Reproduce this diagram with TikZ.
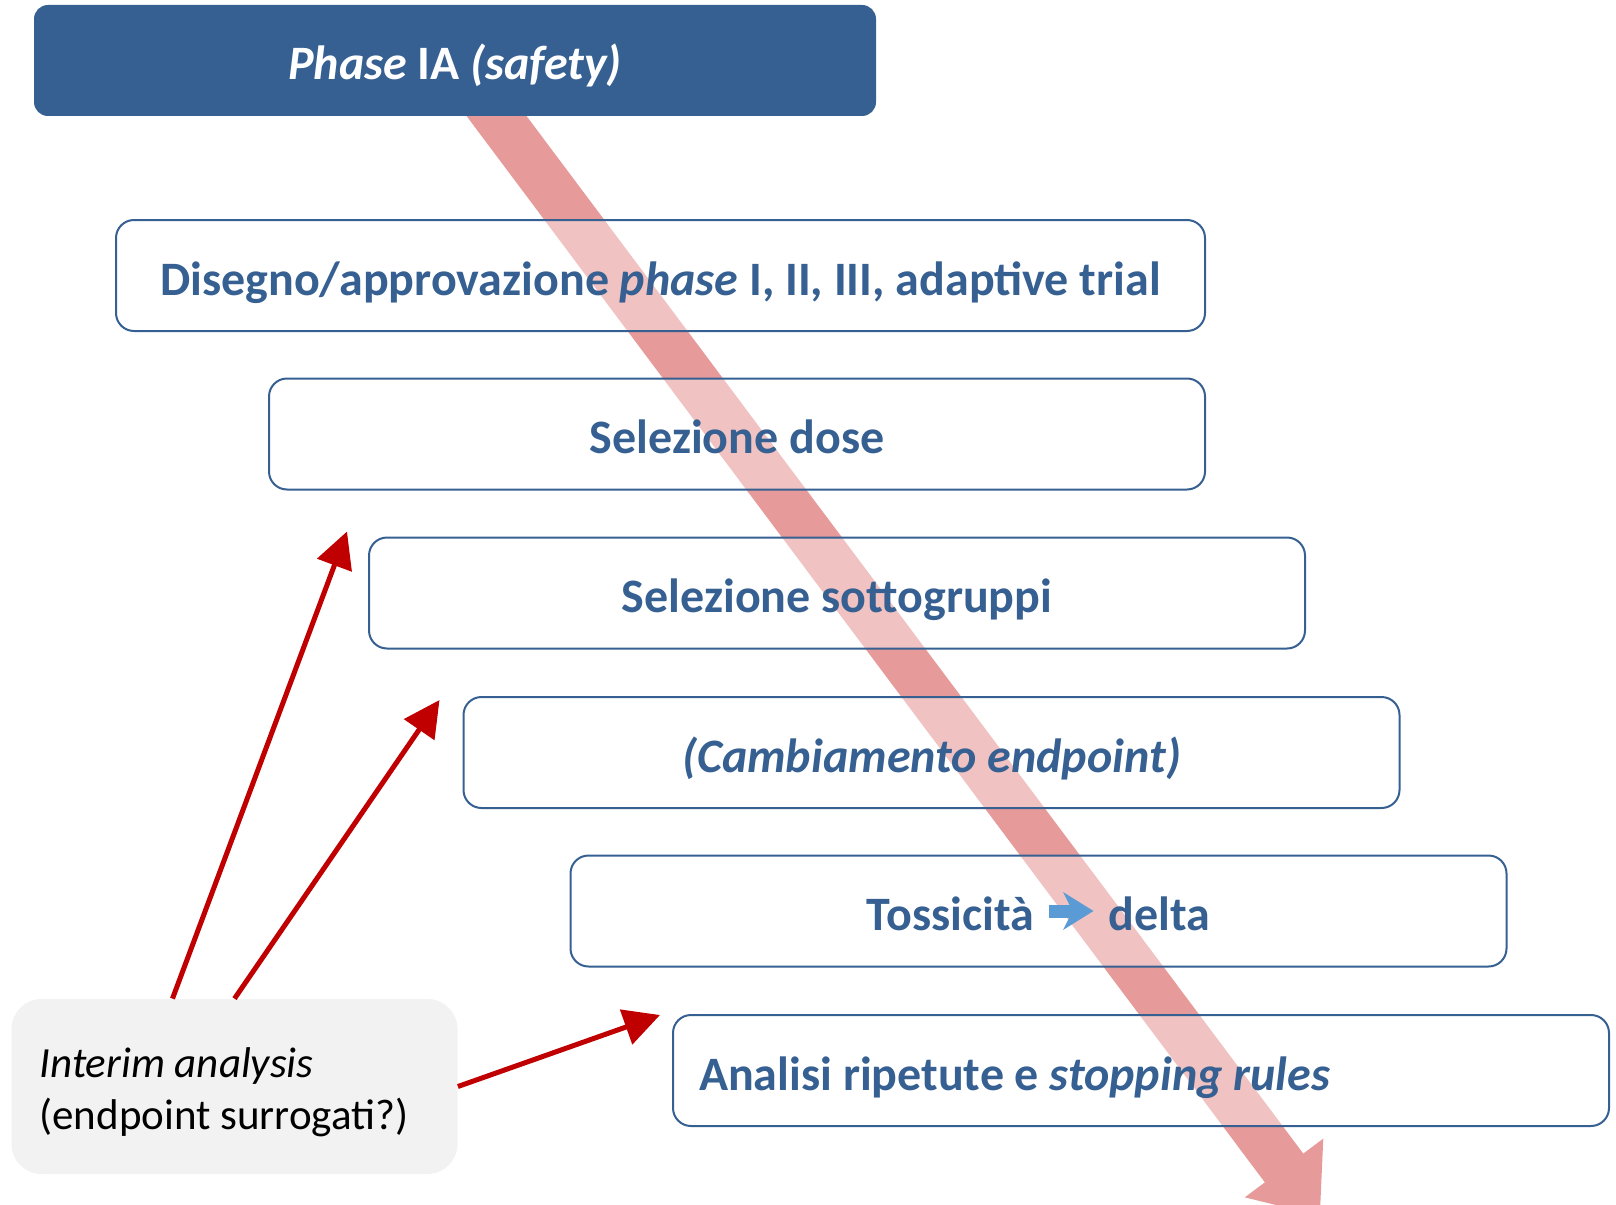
\documentclass[tikz,border=0pt]{standalone}
\usepackage{fontspec}
\setmainfont{Carlito}
\usetikzlibrary{arrows.meta,positioning,calc,backgrounds}
\definecolor{phaseblue}{RGB}{54,96,146}
\definecolor{flowpink}{RGB}{230,154,154}
\definecolor{alertred}{RGB}{192,0,0}
\definecolor{notegrey}{RGB}{242,242,242}
\definecolor{skyblue}{RGB}{91,155,213}

\tikzset{
  stepbox/.style={draw=phaseblue, line width=1pt, rounded corners=9pt,
                  fill=white, fill opacity=0.4, text opacity=1, text=phaseblue,
                  font=\fontsize{24}{29}\selectfont\bfseries,
                  text height=22pt, text depth=2.5pt,
                  minimum width=468pt, minimum height=55.5pt,
                  inner sep=0pt, outer sep=0pt},
  steptext/.style={text=phaseblue, font=\fontsize{24}{29}\selectfont\bfseries,
                   inner sep=0pt, text height=22pt, text depth=2.5pt},
  interim/.style={-{Triangle[length=18pt,width=18pt]}, alertred, line width=2.5pt}
}

\begin{document}
\begin{tikzpicture}[x=0.5pt, y=-0.5pt]

      \useasboundingbox (0,0) rectangle (1616,1204);

      % phase header
      \node (top) [fill=phaseblue, rounded corners=7pt, text=white,
                   minimum width=421pt, minimum height=55.5pt, inner sep=0pt,
                   text height=22pt, text depth=2.5pt,
                   font=\fontsize{24}{29}\selectfont\bfseries] at (455,60.5)
            {\textit{Phase} IA \textit{(safety)}};

      % steps
      \node (b1) [stepbox, minimum width=544.5pt] at (660.5,275.5)
            {Disegno/approvazione \textit{phase} I, II, III, adaptive trial};
      \node (b2) [stepbox] at (737,434)  {Selezione dose};
      \node (b3) [stepbox] at (837,593)  {Selezione sottogruppi};
      \node (b4) [stepbox] at (931.5,752.5) {\textit{(Cambiamento endpoint)}};
      \node (b5) [stepbox] at (1038.5,911) {};
      \node (b6) [stepbox, text width=442pt, inner xsep=13pt, align=flush left]
            at (1141,1070.5) {Analisi ripetute e \textit{stopping rules}};

      \node (tox) [steptext, anchor=east] at ($(b5.center)+(-4,0)$) {Tossicità};
      \node (delta) [steptext, right=37pt of tox] {delta};
      \draw [-{Stealth[length=15pt,width=18.5pt,inset=4.5pt]}, skyblue, line width=6.5pt,
             shorten <=7pt, shorten >=7.5pt] (tox.east) -- (delta.west);

      % interim analysis note
      \node (grey) [fill=notegrey, rounded corners=15pt, text width=195pt,
                    inner xsep=14pt, minimum height=87.5pt, align=flush left,
                    text depth=24pt,
                    font=\fontsize{21.5}{26}\selectfont] at (234.5,1086.5)
            {\textit{Interim analysis}\\(endpoint surrogati?)};

      \draw [interim] ($(grey.north)+(-62,0)$) -- ($(b3.north west)+(-22,-6)$);
      \draw [interim] (grey.north) -- ($(b4.north west)+(-24,3)$);
      \draw [interim] (grey.east) -- ($(b6.north west)+(-13,0)$);

      % flow arrow behind the steps
      \coordinate (fallend) at (1320,1216);
      \begin{scope}[on background layer]
        \draw [-{Triangle[length=30pt,width=47pt]}, flowpink, line width=24pt]
              (top.center) -- (fallend);
      \end{scope}

\end{tikzpicture}
\end{document}
